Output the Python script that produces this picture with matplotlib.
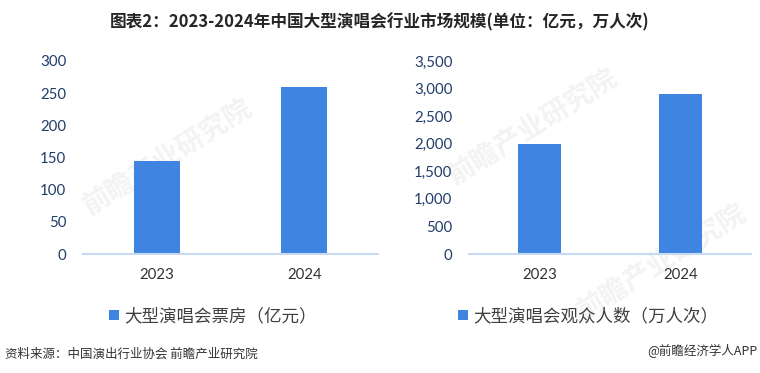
import matplotlib
matplotlib.use("Agg")
import matplotlib.pyplot as plt

plt.rcParams['font.family'] = ['Noto Sans CJK SC', 'DejaVu Sans']

years = ["2023", "2024"]
box_office = [145, 260]          # 亿元
audience = [2000, 2900]          # 万人次
box_ticks = [0, 50, 100, 150, 200, 250, 300]
aud_ticks = [0, 500, 1000, 1500, 2000, 2500, 3000, 3500]

title = "图表2：2023-2024年中国大型演唱会行业市场规模(单位：亿元，万人次)"
label_left = "大型演唱会票房（亿元）"
label_right = "大型演唱会观众人数（万人次）"
source = "资料来源：中国演出行业协会 前瞻产业研究院"
brand = "@前瞻经济学人APP"

BAR = "#3f84e0"
TICK = "#213d69"
AXIS = "#c8daf2"

W, H = 760, 373
fig = plt.figure(figsize=(W / 100, H / 100), dpi=100)

# faint watermark
for x, y in [(0.22, 0.58), (0.70, 0.66), (0.87, 0.30)]:
    fig.text(x, y, "前瞻产业研究院", fontsize=20, fontweight="bold", color="#f3f3f3",
             rotation=32, ha="center", va="center", zorder=-5)


def panel(left_px, right_px, values, ticks, label, fmt):
    ax = fig.add_axes([left_px / W, 1 - 254 / H, (right_px - left_px) / W, 193 / H])
    ax.set_facecolor("none")
    ax.bar(years, values, width=0.31, color=BAR, label=label, zorder=2)
    ax.set_xlim(-0.5, 1.5)
    ax.set_ylim(ticks[0], ticks[-1])
    ax.set_yticks(ticks)
    ax.set_yticklabels([fmt.format(t) for t in ticks])
    for s in ["top", "right", "left"]:
        ax.spines[s].set_visible(False)
    ax.spines["bottom"].set_color(AXIS)
    ax.spines["bottom"].set_linewidth(1.5)
    ax.tick_params(axis="y", length=0, pad=12, labelsize=10.8, labelcolor=TICK)
    ax.tick_params(axis="x", length=0, pad=10, labelsize=10.8, labelcolor="#333333")
    for t in ax.get_yticklabels() + ax.get_xticklabels():
        t.set_fontfamily("Lato")
    return ax


ax1 = panel(83, 378, box_office, box_ticks, label_left, "{:d}")
ax2 = panel(469, 751, audience, aud_ticks, label_right, "{:,d}")

for ax, cx in [(ax1, 213), (ax2, 588)]:
    fig.legend(*ax.get_legend_handles_labels(), loc="center",
               bbox_to_anchor=(cx / W, 1 - 316 / H), frameon=False,
               handlelength=0.55, handleheight=0.55, handletextpad=0.3,
               prop={"size": 12.6}, labelcolor="#404040")

fig.text(0.5, 1 - 22 / H, title, ha="center", va="center", fontsize=12,
         fontweight="bold", color="#262626")
fig.text(5 / W, 1 - 354 / H, source, ha="left", va="center", fontsize=9, color="#333333")
fig.text(758 / W, 1 - 351 / H, brand, ha="right", va="center", fontsize=9, color="#333333")

fig.savefig("out.png", dpi=100)
